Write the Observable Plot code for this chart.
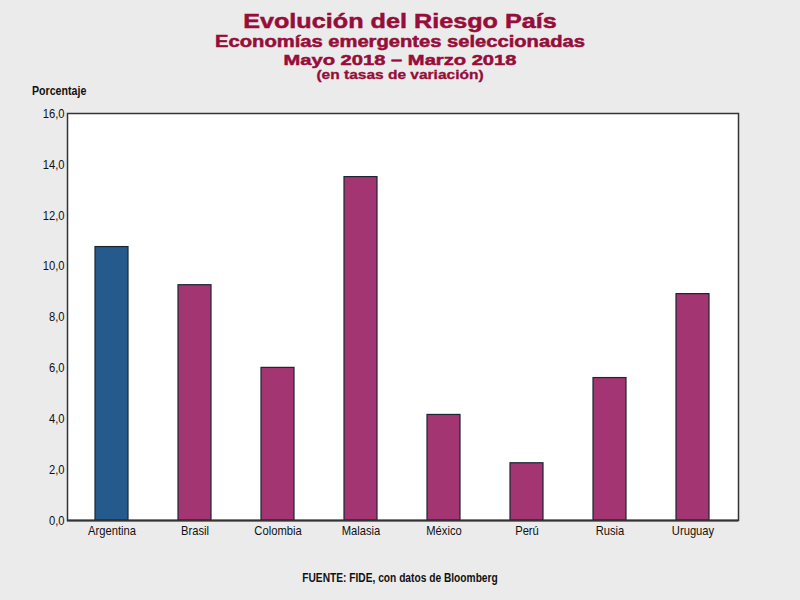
<!DOCTYPE html>
<html><head><meta charset="utf-8">
<script src="https://cdn.jsdelivr.net/npm/d3@7"></script>
<script src="https://cdn.jsdelivr.net/npm/@observablehq/plot@0.6"></script>
<style>
body{margin:0;background:#ebebeb;}
#wrap{position:relative;width:800px;height:600px;background:#ebebeb;overflow:hidden;}
.t{position:absolute;left:0;width:800px;text-align:center;font-family:"Liberation Sans",Arial,sans-serif;font-weight:bold;color:#970d3a;-webkit-text-stroke:0.5px #970d3a;transform-origin:400px 0;white-space:nowrap;}
.n{position:absolute;font-family:"Liberation Sans",Arial,sans-serif;font-weight:bold;color:#111;}
</style></head><body>
<div id="wrap">
<div class="t" style="top:10.2px;font-size:21px;line-height:21px;transform:scaleX(1.2);">Evolución del Riesgo País</div>
<div class="t" style="top:34px;font-size:16px;line-height:16px;transform:scaleX(1.26);">Economías emergentes seleccionadas</div>
<div class="t" style="top:51.9px;font-size:15.5px;line-height:15.5px;transform:scaleX(1.3);">Mayo 2018 – Marzo 2018</div>
<div class="t" style="top:69.4px;font-size:12.5px;line-height:12.5px;transform:scaleX(1.24);-webkit-text-stroke:0.3px #970d3a;">(en tasas de variación)</div>
<div class="n" style="left:32px;top:84.5px;font-size:12.5px;line-height:12.5px;transform:scaleX(0.85);transform-origin:0 0;">Porcentaje</div>
<div class="n" style="left:0;width:800px;top:572px;text-align:center;font-size:12px;line-height:12px;transform:scaleX(0.85);transform-origin:400px 0;">FUENTE: FIDE, con datos de Bloomberg</div>
<div id="chart" style="position:absolute;left:0;top:0;"></div>
</div>
<script>
const countries = ["Argentina","Brasil","Colombia","Malasia","México","Perú","Rusia","Uruguay"];
const values = [10.75, 9.25, 6.0, 13.5, 4.15, 2.25, 5.6, 8.9];
const barColors = ["#245a8c","#a33572","#a33572","#a33572","#a33572","#a33572","#a33572","#a33572"];
const yTicks = [0,2,4,6,8,10,12,14,16];

const data = countries.map((c,i)=>({country:c, value:values[i], color:barColors[i]}));
const fmt = d => d.toFixed(1).replace(".", ",");

const chart = Plot.plot({
  width: 800, height: 600,
  marginLeft: 67, marginRight: 62, marginTop: 113, marginBottom: 80,
  style: {background:"transparent", fontFamily:"'Liberation Sans',Arial,sans-serif", fontSize:"13.5px", color:"#111"},
  x: {domain: countries, paddingInner: 0.6, paddingOuter: 0.3, label: null, tickSize: 0, tickPadding: 5},
  y: {domain:[0,16], ticks: yTicks, tickFormat: fmt, label: null, tickSize: 0, tickPadding: 3},
  marks: [
    Plot.frame({fill:"white", stroke:"#333", strokeWidth:1.5}),
    Plot.barY(data, {x:"country", y:"value", fill:"color", stroke:"#1c2633", strokeWidth:1.2}),
    Plot.ruleY([0], {stroke:"#333", strokeWidth:2})
  ]
});
document.getElementById("chart").appendChild(chart);
// condense tick labels to mimic a narrow typeface
d3.select(chart).selectAll("g[aria-label$='tick label'] text").each(function(){
  const len = this.getComputedTextLength();
  this.setAttribute("textLength", (len*0.83).toFixed(2));
  this.setAttribute("lengthAdjust", "spacingAndGlyphs");
});
</script>
</body></html>
